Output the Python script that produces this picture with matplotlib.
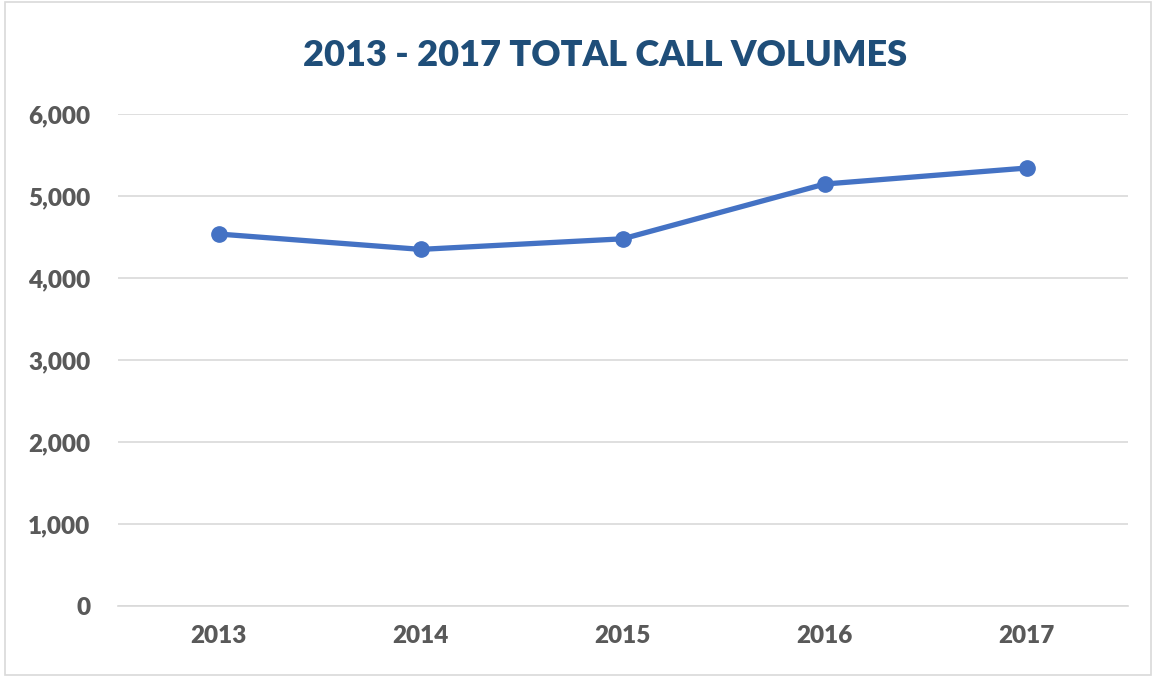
import numpy as np
import matplotlib as mpl
import matplotlib.pyplot as plt
from matplotlib.ticker import FuncFormatter

plt.rcParams['font.family'] = ['Lato', 'DejaVu Sans']

years = ['2013', '2014', '2015', '2016', '2017']
calls = [4536, 4349, 4478, 5146, 5341]

fig = plt.figure(figsize=(11.53, 6.77), dpi=100)
ax = fig.add_axes([0.1023, 0.1049, 0.8757, 0.7267])

x = np.arange(len(years))
ax.plot(x, calls, color='#4472C4', linewidth=3.8, marker='o', markersize=11,
        solid_capstyle='round', zorder=3)

ax.set_xlim(-0.5, len(years) - 0.5)
ax.set_ylim(0, 6000)
ax.set_yticks(np.arange(0, 6001, 1000))
ax.yaxis.set_major_formatter(FuncFormatter(lambda v, p: '{:,.0f}'.format(v)))
ax.set_xticks(x)
ax.set_xticklabels(years)

ax.grid(axis='y', color='#D9D9D9', linewidth=1.2)
ax.set_axisbelow(True)
for s in ['top', 'right', 'left']:
    ax.spines[s].set_visible(False)
ax.spines['bottom'].set_color('#D9D9D9')
ax.spines['bottom'].set_linewidth(1.2)
ax.tick_params(length=0, colors='#595959', labelsize=17.5, pad=20)
ax.tick_params(axis='x', pad=14)
for lbl in ax.get_xticklabels() + ax.get_yticklabels():
    lbl.set_fontweight('heavy')

fig.text(0.525, 0.918, '2013 - 2017 TOTAL CALL VOLUMES', ha='center', va='center',
         fontsize=26, fontweight='heavy', color='#1F4E79')

# chart border
fig.patches.append(mpl.patches.Rectangle((0.004, 0.003), 0.994, 0.994,
                                         transform=fig.transFigure, fill=False,
                                         edgecolor='#D9D9D9', linewidth=1.2))

fig.savefig('out.png', dpi=100, facecolor='white')
